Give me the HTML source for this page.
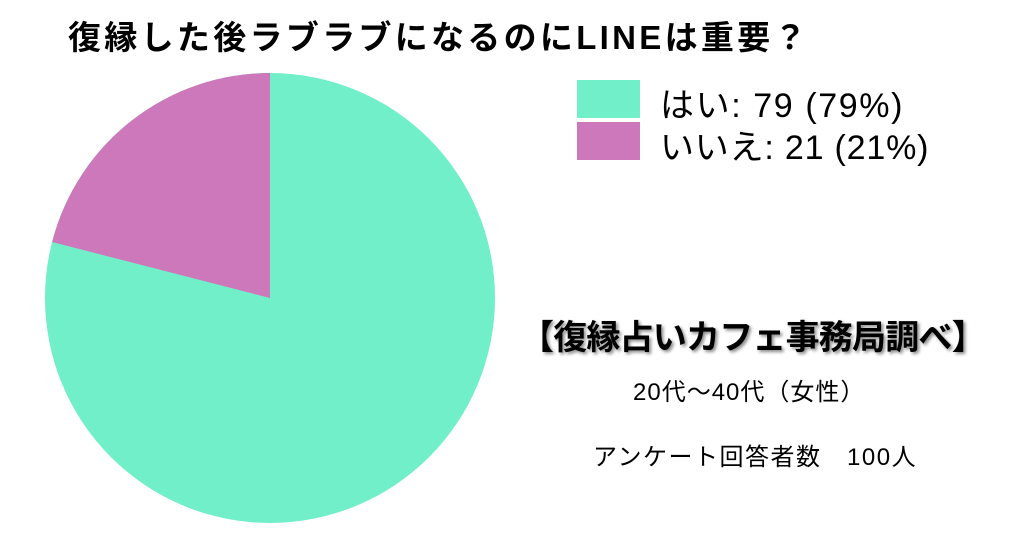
<!DOCTYPE html>
<html><head><meta charset="utf-8"><style>
body{margin:0;width:1024px;height:541px;background:#fff;overflow:hidden;position:relative;font-family:"Liberation Sans","Noto Sans CJK JP",sans-serif;}
.t{position:absolute;white-space:nowrap;color:#000;}
</style></head><body>
<div class="t" style="left:68px;top:11px;font-size:33px;font-weight:bold;letter-spacing:3.3px">復縁した後ラブラブになるのにLINEは重要？</div>
<svg style="position:absolute;left:0;top:0" width="1024" height="541">
<circle cx="270" cy="298" r="225" fill="#70EFC9"/>
<path d="M270,298 L270,73 A225,225 0 0 0 52.1,242 Z" fill="#CD78BA"/>
<rect x="577" y="80" width="63" height="38" fill="#70EFC9"/>
<rect x="577" y="122" width="63" height="38" fill="#CD78BA"/>
</svg>
<div class="t" style="left:660px;top:78px;font-size:34px;letter-spacing:1.6px">はい: 79 (79%)</div>
<div class="t" style="left:660px;top:120px;font-size:34px;letter-spacing:0.8px">いいえ: 21 (21%)</div>
<div class="t" style="left:520px;top:310px;font-size:34px;font-weight:bold;text-shadow:2px 2px 3px #888;letter-spacing:-0.8px">【復縁占いカフェ事務局調べ】</div>
<div class="t" style="left:633px;top:372px;font-size:24px;letter-spacing:1px">20代〜40代（女性）</div>
<div class="t" style="left:593px;top:437px;font-size:24px;letter-spacing:1.5px">アンケート回答者数　100人</div>
</body></html>
